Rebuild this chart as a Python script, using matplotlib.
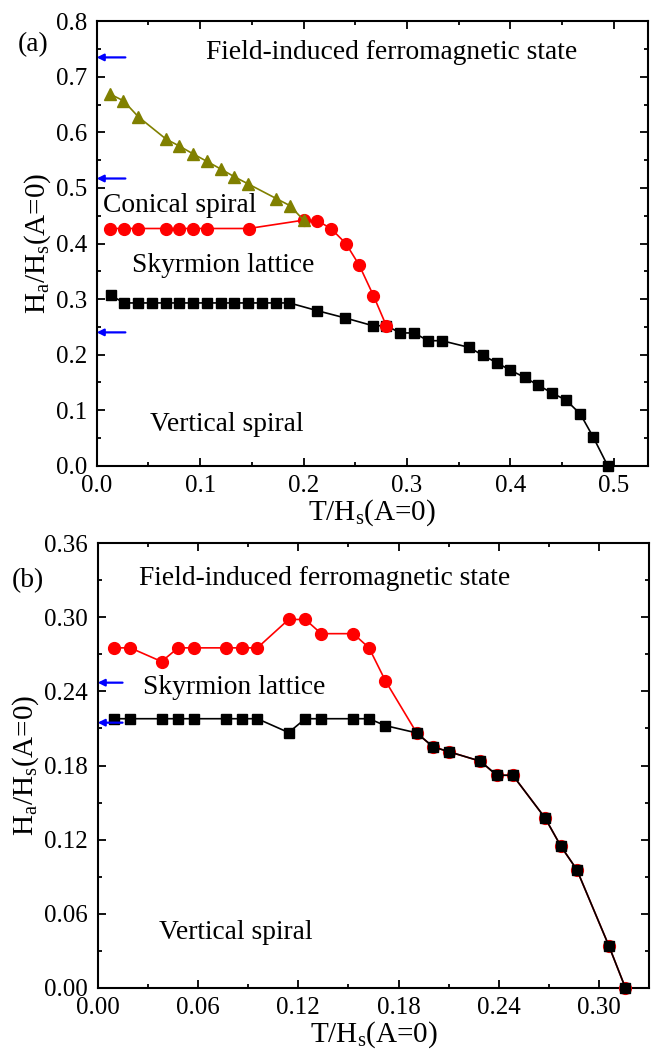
import matplotlib
matplotlib.use("Agg")
import matplotlib.pyplot as plt
from matplotlib.ticker import MultipleLocator, FormatStrFormatter

plt.rcParams['font.family'] = ['Liberation Serif', 'DejaVu Serif']
plt.rcParams['mathtext.fontset'] = 'custom'
plt.rcParams['mathtext.rm'] = 'Liberation Serif'
plt.rcParams['mathtext.it'] = 'Liberation Serif:italic'

# ---------------- Panel (a) data ----------------
a_tri_T = [0.0129, 0.0258, 0.0403, 0.0670, 0.0793, 0.0935, 0.1064, 0.1200, 0.1332, 0.1467, 0.1735, 0.1870, 0.2000]
a_tri_H = [0.669, 0.657, 0.628, 0.588, 0.576, 0.561, 0.548, 0.534, 0.520, 0.507, 0.481, 0.468, 0.442]

a_red_T = [0.0129, 0.0264, 0.0403, 0.0670, 0.0800, 0.0935, 0.1064, 0.1470, 0.2000, 0.2134, 0.2264, 0.2409, 0.2538, 0.2676, 0.2800]
a_red_H = [0.427, 0.427, 0.427, 0.427, 0.427, 0.427, 0.427, 0.427, 0.442, 0.441, 0.427, 0.400, 0.361, 0.306, 0.252]

a_blk_T = [0.0135, 0.0264, 0.0403, 0.0535, 0.0670, 0.0800, 0.0935, 0.1064, 0.1200, 0.1332, 0.1467, 0.1600, 0.1735,
           0.1863, 0.2134, 0.2402, 0.2670, 0.2800, 0.2935, 0.3070, 0.3202, 0.3338, 0.3600, 0.3731, 0.3870,
           0.3999, 0.4137, 0.4267, 0.4402, 0.4538, 0.4676, 0.4799, 0.4940]
a_blk_H = [0.307, 0.293, 0.293, 0.293, 0.293, 0.293, 0.293, 0.293, 0.293, 0.293, 0.293, 0.293, 0.293,
           0.293, 0.279, 0.266, 0.252, 0.252, 0.239, 0.239, 0.225, 0.225, 0.213, 0.199, 0.185,
           0.172, 0.159, 0.145, 0.131, 0.118, 0.093, 0.052, 0.000]

a_arrows_H = [0.735, 0.517, 0.240]

# ---------------- Panel (b) data ----------------
b_red_T = [0.0095, 0.0195, 0.0382, 0.0481, 0.0574, 0.0768, 0.0863, 0.0955, 0.1142, 0.1242, 0.1337, 0.1529,
           0.1623, 0.1721, 0.1908, 0.2005, 0.2102, 0.2289, 0.2387, 0.2483, 0.2676, 0.2771, 0.2866, 0.3057, 0.3156]
b_red_H = [0.2753, 0.2753, 0.2642, 0.2753, 0.2753, 0.2753, 0.2753, 0.2753, 0.2983, 0.2983, 0.2868, 0.2868,
           0.2753, 0.2486, 0.2064, 0.1952, 0.1911, 0.1835, 0.1721, 0.1721, 0.1375, 0.1145, 0.0956, 0.0341, 0.0000]

b_blk_T = [0.0095, 0.0195, 0.0382, 0.0481, 0.0574, 0.0768, 0.0863, 0.0955, 0.1142, 0.1242, 0.1337, 0.1529,
           0.1623, 0.1721, 0.1908, 0.2005, 0.2102, 0.2289, 0.2387, 0.2483, 0.2676, 0.2771, 0.2866, 0.3057, 0.3156]
b_blk_H = [0.2179, 0.2179, 0.2179, 0.2179, 0.2179, 0.2179, 0.2179, 0.2179, 0.2067, 0.2179, 0.2179, 0.2179,
           0.2179, 0.2123, 0.2064, 0.1952, 0.1911, 0.1835, 0.1721, 0.1721, 0.1375, 0.1145, 0.0956, 0.0341, 0.0000]

b_arrows_H = [0.2471, 0.2147]

FS_TICK = 18
FS_LABEL = 21
FS_TEXT = 19.8

fig = plt.figure(figsize=(6.55, 10.55), dpi=100)
W, Hf = 655.0, 1055.0
ax1 = fig.add_axes([96.7 / W, 1 - 465.7 / Hf, (648.0 - 96.7) / W, 444.4 / Hf])
ax2 = fig.add_axes([97.7 / W, 1 - 987.7 / Hf, (649.4 - 97.7) / W, 444.4 / Hf])


def style(ax, xmaj, ymaj, xfmt, yfmt):
    ax.xaxis.set_major_locator(MultipleLocator(xmaj))
    ax.xaxis.set_minor_locator(MultipleLocator(xmaj / 2))
    ax.yaxis.set_major_locator(MultipleLocator(ymaj))
    ax.yaxis.set_minor_locator(MultipleLocator(ymaj / 2))
    ax.xaxis.set_major_formatter(FormatStrFormatter(xfmt))
    ax.yaxis.set_major_formatter(FormatStrFormatter(yfmt))
    ax.tick_params(which='both', direction='in', top=True, right=True, width=1.3, labelsize=FS_TICK)
    ax.tick_params(which='major', length=6, pad=7)
    ax.tick_params(which='minor', length=3)
    for s in ax.spines.values():
        s.set_linewidth(1.5)


# Panel (a)
ax1.plot(a_blk_T, a_blk_H, '-', color='black', lw=1.2, marker='s', ms=7, clip_on=False, zorder=3)
ax1.plot(a_red_T, a_red_H, '-', color='red', lw=1.2, marker='o', ms=8.5, clip_on=False, zorder=4)
ax1.plot(a_tri_T, a_tri_H, '-', color='#808000', lw=1.2, marker='^', ms=9, clip_on=False, zorder=5)
ax1.set_xlim(0, 0.533)
ax1.set_ylim(0, 0.8)
style(ax1, 0.1, 0.1, '%.1f', '%.1f')
ax1.set_xlabel(r'T/H$_\mathrm{s}$(A=0)', fontsize=FS_LABEL, labelpad=0)
ax1.set_ylabel(r'H$_\mathrm{a}$/H$_\mathrm{s}$(A=0)', fontsize=FS_LABEL, labelpad=2)
for h in a_arrows_H:
    ax1.annotate('', xy=(0.0, h), xytext=(0.052, h), xycoords=ax1.get_yaxis_transform(),
                 textcoords=ax1.get_yaxis_transform(),
                 arrowprops=dict(arrowstyle='-|>', color='blue', lw=1.6, mutation_scale=10,
                                 shrinkA=0, shrinkB=0), zorder=6)
ax1.text(0.2847, 0.743, 'Field-induced ferromagnetic state', fontsize=FS_TEXT, ha='center', va='center')
ax1.text(0.080, 0.468, 'Conical spiral', fontsize=FS_TEXT, ha='center', va='center')
ax1.text(0.1222, 0.361, 'Skyrmion lattice', fontsize=FS_TEXT, ha='center', va='center')
ax1.text(0.1256, 0.075, 'Vertical spiral', fontsize=FS_TEXT, ha='center', va='center')
fig.text(33 / W, 1 - 45 / Hf, '(a)', fontsize=FS_TEXT, ha='center', va='center')

# Panel (b)
ax2.plot(b_red_T, b_red_H, '-', color='red', lw=1.2, marker='o', ms=8.5, clip_on=False, zorder=3)
ax2.plot(b_blk_T, b_blk_H, '-', color='black', lw=1.2, marker='s', ms=7, clip_on=False, zorder=4)
ax2.set_xlim(0, 0.33)
ax2.set_ylim(0, 0.36)
style(ax2, 0.06, 0.06, '%.2f', '%.2f')
ax2.set_xlabel(r'T/H$_\mathrm{s}$(A=0)', fontsize=FS_LABEL, labelpad=0)
ax2.set_ylabel(r'H$_\mathrm{a}$/H$_\mathrm{s}$(A=0)', fontsize=FS_LABEL, labelpad=2)
for h in b_arrows_H:
    ax2.annotate('', xy=(0.0, h), xytext=(0.045, h), xycoords=ax2.get_yaxis_transform(),
                 textcoords=ax2.get_yaxis_transform(),
                 arrowprops=dict(arrowstyle='-|>', color='blue', lw=1.6, mutation_scale=10,
                                 shrinkA=0, shrinkB=0), zorder=6)
ax2.text(0.136, 0.3313, 'Field-induced ferromagnetic state', fontsize=FS_TEXT, ha='center', va='center')
ax2.text(0.0818, 0.2435, 'Skyrmion lattice', fontsize=FS_TEXT, ha='center', va='center')
ax2.text(0.0827, 0.0447, 'Vertical spiral', fontsize=FS_TEXT, ha='center', va='center')
fig.text(28 / W, 1 - 581 / Hf, '(b)', fontsize=FS_TEXT, ha='center', va='center')

fig.savefig('out.png', dpi=100)
